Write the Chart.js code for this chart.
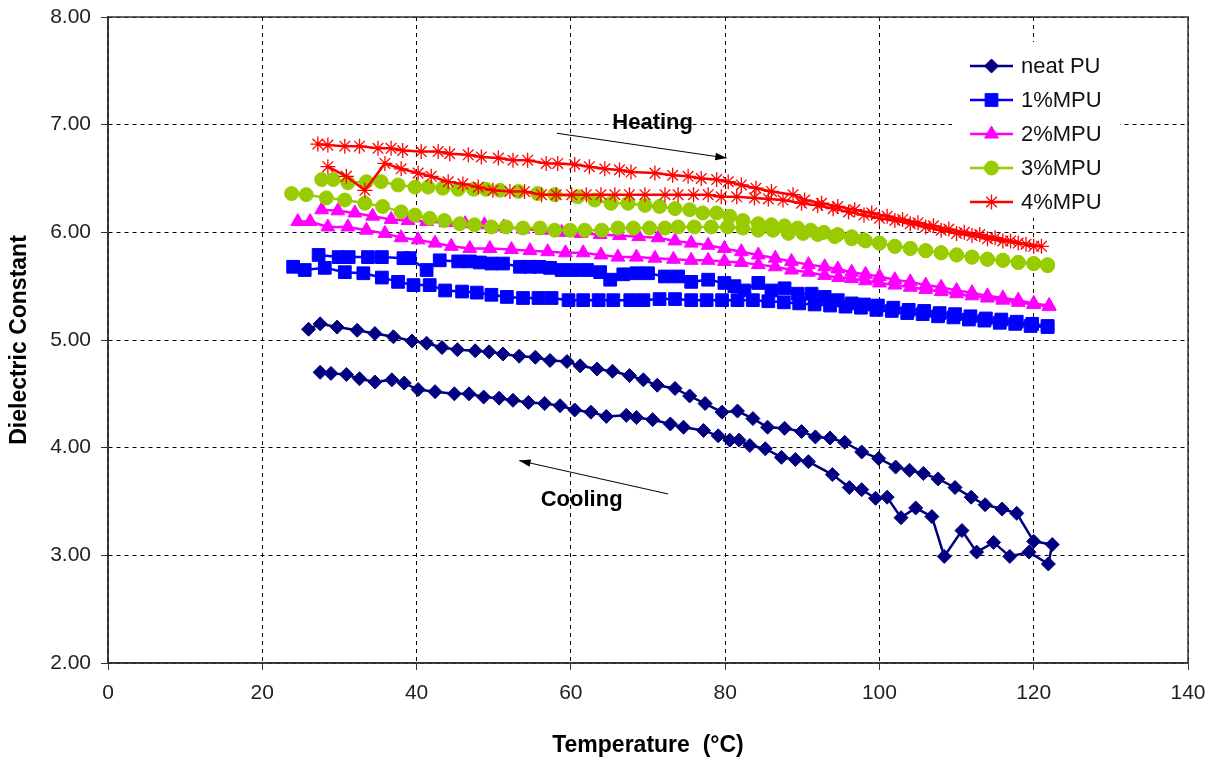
<!DOCTYPE html>
<html>
<head>
<meta charset="utf-8">
<script src="https://cdn.jsdelivr.net/npm/chart.js@4.4.1/dist/chart.umd.min.js"></script>
<style>
  html, body { margin: 0; padding: 0; background: #fff; }
  canvas { display: block; }
</style>
</head>
<body>
<canvas id="myChart" width="1221" height="762"></canvas>
<script>
const seriesNames = ['neat PU', '1%MPU', '2%MPU', '3%MPU', '4%MPU'];

// each loop: upper/first branch left to right, then the other branch back
const tempNeat = [26.0, 27.5, 29.7, 32.3, 34.6, 37.0, 39.4, 41.3, 43.3, 45.3, 47.6, 49.4, 51.2, 53.3, 55.4, 57.3, 59.5, 61.2, 63.4, 65.4, 67.6, 69.4, 71.2, 73.5, 75.4, 77.4, 79.6, 81.6, 83.6, 85.5, 87.7, 89.9, 91.7, 93.6, 95.5, 97.7, 99.9, 102.1, 103.9, 105.7, 107.6, 109.8, 111.9, 113.7, 115.9, 117.8, 120.0, 122.4,
  121.9, 119.4, 116.9, 114.8, 112.6, 110.7, 108.4, 106.8, 104.7, 102.8, 101.0, 99.5, 97.7, 96.1, 93.9, 90.8, 89.1, 87.3, 85.2, 83.2, 81.8, 80.6, 79.1, 77.2, 74.6, 72.9, 70.6, 68.5, 67.2, 64.6, 62.6, 60.5, 58.6, 56.6, 54.5, 52.5, 50.7, 48.7, 46.8, 44.9, 42.4, 40.2, 38.4, 36.8, 34.6, 32.6, 30.9, 28.9, 27.5];
const epsNeat = [5.10, 5.15, 5.12, 5.09, 5.06, 5.03, 4.99, 4.97, 4.93, 4.91, 4.90, 4.89, 4.87, 4.85, 4.84, 4.81, 4.80, 4.76, 4.73, 4.71, 4.67, 4.63, 4.58, 4.55, 4.48, 4.41, 4.33, 4.34, 4.27, 4.19, 4.18, 4.15, 4.10, 4.09, 4.05, 3.96, 3.90, 3.82, 3.79, 3.76, 3.71, 3.63, 3.54, 3.47, 3.43, 3.39, 3.13, 3.10,
  2.92, 3.03, 2.99, 3.12, 3.03, 3.23, 2.99, 3.36, 3.44, 3.35, 3.54, 3.53, 3.61, 3.63, 3.75, 3.87, 3.89, 3.91, 3.99, 4.02, 4.07, 4.07, 4.11, 4.16, 4.19, 4.22, 4.26, 4.28, 4.30, 4.29, 4.33, 4.35, 4.39, 4.41, 4.42, 4.44, 4.46, 4.47, 4.50, 4.50, 4.52, 4.54, 4.60, 4.63, 4.61, 4.64, 4.68, 4.69, 4.70];

const temp1 = [24.0, 25.5, 28.1, 30.7, 33.1, 35.5, 37.6, 39.6, 41.7, 43.7, 45.9, 47.8, 49.7, 51.7, 53.8, 55.8, 57.5, 59.7, 61.6, 63.6, 65.5, 67.7, 69.4, 71.5, 73.5, 75.6, 77.6, 79.6, 81.6, 83.6, 85.6, 87.6, 89.6, 91.6, 93.6, 95.6, 97.6, 99.6, 101.6, 103.6, 105.6, 107.6, 109.6, 111.6, 113.6, 115.6, 117.6, 119.6, 121.8,
  121.8, 119.8, 117.8, 115.8, 113.8, 111.8, 109.8, 107.8, 105.8, 103.8, 101.8, 99.8, 98.0, 96.4, 94.6, 92.9, 91.2, 89.4, 87.7, 86.0, 84.3, 82.5, 81.2, 79.9, 77.8, 75.6, 73.9, 72.2, 70.0, 68.5, 66.8, 65.1, 63.8, 62.1, 60.4, 58.8, 57.3, 55.9, 54.7, 53.4, 51.2, 49.7, 48.2, 46.9, 45.4, 43.0, 41.3, 39.1, 38.3, 35.5, 33.7, 31.2, 29.9, 27.3];
const eps1 = [5.68, 5.65, 5.67, 5.63, 5.62, 5.58, 5.54, 5.51, 5.51, 5.46, 5.45, 5.44, 5.42, 5.40, 5.39, 5.39, 5.39, 5.37, 5.37, 5.37, 5.37, 5.37, 5.37, 5.38, 5.38, 5.37, 5.37, 5.37, 5.37, 5.37, 5.36, 5.35, 5.34, 5.33, 5.32, 5.31, 5.30, 5.28, 5.27, 5.25, 5.24, 5.22, 5.21, 5.19, 5.18, 5.16, 5.15, 5.13, 5.12,
  5.13, 5.15, 5.17, 5.19, 5.20, 5.22, 5.24, 5.25, 5.27, 5.28, 5.30, 5.32, 5.33, 5.34, 5.37, 5.40, 5.43, 5.43, 5.48, 5.46, 5.53, 5.46, 5.50, 5.53, 5.56, 5.54, 5.59, 5.59, 5.62, 5.62, 5.61, 5.56, 5.63, 5.65, 5.65, 5.65, 5.67, 5.68, 5.68, 5.68, 5.71, 5.71, 5.72, 5.73, 5.73, 5.74, 5.65, 5.76, 5.76, 5.77, 5.77, 5.77, 5.77, 5.79];

const temp2 = [24.6, 26.2, 28.5, 31.1, 33.5, 35.9, 38.0, 40.2, 42.4, 44.5, 46.9, 49.5, 52.3, 54.7, 57.0, 59.3, 61.6, 63.9, 66.1, 68.5, 70.9, 73.3, 75.6, 77.8, 79.9, 82.1, 84.3, 86.5, 88.6, 90.8, 92.9, 94.7, 96.4, 98.2, 100.0, 102.0, 104.0, 106.0, 108.0, 110.0, 112.0, 114.0, 116.0, 118.0, 120.0, 122.0,
  122.0, 120.0, 118.0, 116.0, 114.0, 112.0, 110.0, 108.0, 106.0, 104.0, 102.0, 100.0, 98.2, 96.4, 94.6, 92.9, 90.8, 88.6, 86.5, 84.3, 82.1, 79.9, 77.8, 75.6, 73.5, 71.3, 68.8, 66.3, 63.8, 61.3, 58.8, 56.3, 53.8, 51.3, 48.8, 46.3, 43.8, 41.3, 38.9, 36.7, 34.3, 32.0, 29.8, 27.7];
const eps2 = [6.10, 6.10, 6.05, 6.05, 6.02, 5.99, 5.95, 5.93, 5.90, 5.87, 5.85, 5.85, 5.84, 5.83, 5.82, 5.81, 5.81, 5.79, 5.77, 5.77, 5.76, 5.75, 5.74, 5.74, 5.73, 5.72, 5.70, 5.68, 5.65, 5.63, 5.60, 5.58, 5.57, 5.55, 5.53, 5.51, 5.49, 5.47, 5.45, 5.43, 5.41, 5.39, 5.37, 5.35, 5.33, 5.31,
  5.32, 5.34, 5.37, 5.39, 5.41, 5.44, 5.46, 5.49, 5.51, 5.54, 5.56, 5.59, 5.61, 5.63, 5.66, 5.68, 5.70, 5.73, 5.76, 5.79, 5.82, 5.85, 5.88, 5.90, 5.92, 5.95, 5.96, 5.97, 5.98, 5.99, 6.00, 6.02, 6.03, 6.05, 6.07, 6.08, 6.09, 6.10, 6.11, 6.12, 6.15, 6.18, 6.20, 6.21];

const temp3 = [23.8, 25.7, 28.3, 30.7, 33.3, 35.6, 38.0, 39.8, 41.7, 43.6, 45.6, 47.5, 49.7, 51.6, 53.8, 56.0, 57.9, 59.9, 61.8, 64.0, 66.1, 68.1, 70.2, 72.2, 73.9, 76.0, 78.2, 80.3, 82.3, 84.3, 86.2, 88.2, 90.1, 92.0, 94.2, 96.4, 98.2, 100.0, 102.0, 104.0, 106.0, 108.0, 110.0, 112.0, 114.0, 116.0, 118.0, 120.0, 121.8,
  121.8, 120.0, 118.0, 116.0, 114.0, 112.0, 110.0, 108.0, 106.0, 104.0, 102.0, 100.0, 98.0, 96.4, 94.6, 92.8, 91.1, 89.4, 87.7, 86.0, 84.3, 82.3, 80.6, 78.9, 77.1, 75.4, 73.5, 71.5, 69.6, 67.4, 65.2, 63.1, 60.9, 57.9, 55.7, 53.2, 50.8, 49.0, 47.4, 45.4, 43.4, 41.5, 39.8, 37.6, 35.4, 33.5, 31.1, 29.2, 27.7];
const eps3 = [6.36, 6.35, 6.32, 6.30, 6.27, 6.24, 6.19, 6.16, 6.13, 6.11, 6.08, 6.07, 6.05, 6.05, 6.04, 6.04, 6.02, 6.02, 6.02, 6.02, 6.04, 6.04, 6.04, 6.04, 6.05, 6.05, 6.05, 6.05, 6.04, 6.02, 6.02, 5.99, 5.99, 5.98, 5.96, 5.94, 5.92, 5.90, 5.87, 5.85, 5.83, 5.81, 5.79, 5.77, 5.75, 5.74, 5.72, 5.71, 5.69,
  5.70, 5.71, 5.72, 5.74, 5.75, 5.77, 5.79, 5.81, 5.83, 5.85, 5.87, 5.90, 5.93, 5.96, 5.98, 6.00, 6.02, 6.04, 6.06, 6.07, 6.08, 6.11, 6.15, 6.18, 6.18, 6.21, 6.22, 6.24, 6.25, 6.27, 6.27, 6.30, 6.33, 6.35, 6.36, 6.38, 6.39, 6.40, 6.40, 6.40, 6.41, 6.42, 6.42, 6.44, 6.47, 6.47, 6.46, 6.49, 6.49];

const temp4 = [27.2, 28.5, 30.7, 32.6, 35.0, 36.7, 38.2, 40.6, 42.8, 44.3, 46.7, 48.4, 50.6, 52.5, 54.4, 56.8, 58.3, 60.5, 62.4, 64.4, 66.3, 67.8, 70.9, 73.2, 75.2, 76.9, 78.9, 80.4, 82.1, 84.0, 86.0, 88.8, 90.3, 92.5, 94.6, 96.8, 99.0, 101.0, 103.0, 105.0, 107.0, 109.0, 111.0, 113.0, 115.0, 117.0, 119.0, 121.0,
  120.0, 118.0, 116.0, 114.0, 112.0, 110.0, 108.0, 106.0, 104.0, 102.0, 100.0, 98.0, 96.0, 94.0, 92.0, 89.9, 87.5, 85.6, 83.8, 81.5, 79.5, 77.8, 75.9, 73.9, 72.2, 69.6, 67.6, 65.7, 63.9, 62.0, 60.1, 58.1, 56.2, 54.0, 52.1, 49.9, 48.0, 46.0, 44.1, 41.9, 40.2, 38.0, 35.9, 33.3, 30.9, 28.5];
const eps4 = [6.82, 6.81, 6.80, 6.80, 6.78, 6.78, 6.76, 6.75, 6.75, 6.73, 6.72, 6.70, 6.69, 6.67, 6.67, 6.64, 6.64, 6.63, 6.61, 6.59, 6.58, 6.56, 6.55, 6.53, 6.52, 6.50, 6.49, 6.47, 6.44, 6.41, 6.38, 6.35, 6.30, 6.27, 6.24, 6.21, 6.18, 6.15, 6.12, 6.09, 6.06, 6.03, 6.00, 5.98, 5.95, 5.92, 5.89, 5.87,
  5.87, 5.90, 5.92, 5.94, 5.97, 5.99, 6.02, 6.05, 6.08, 6.11, 6.13, 6.16, 6.19, 6.22, 6.25, 6.27, 6.30, 6.31, 6.32, 6.33, 6.33, 6.35, 6.35, 6.35, 6.35, 6.35, 6.35, 6.35, 6.35, 6.35, 6.35, 6.35, 6.35, 6.38, 6.38, 6.39, 6.42, 6.45, 6.47, 6.52, 6.55, 6.59, 6.64, 6.39, 6.52, 6.61];

const xTicks = [0, 20, 40, 60, 80, 100, 120, 140];
const yTicks = [2, 3, 4, 5, 6, 7, 8];

const colors = ['#000080', '#0000FF', '#FF00FF', '#99CC00', '#FF0000'];
const markers = ['rectRot', 'rect', 'triangle', 'circle', 'star'];
const markerSize = [7, 9, 8, 7, 7.5];

const temps = [tempNeat, temp1, temp2, temp3, temp4];
const eps = [epsNeat, eps1, eps2, eps3, eps4];

const datasets = seriesNames.map((name, i) => ({
  label: name,
  data: temps[i].map((t, j) => ({ x: t, y: eps[i][j] })),
  showLine: true,
  borderColor: colors[i],
  backgroundColor: colors[i],
  borderWidth: 2.5,
  pointStyle: markers[i],
  pointRadius: markerSize[i],
  pointBackgroundColor: colors[i],
  pointBorderColor: colors[i],
  pointBorderWidth: i === 4 ? 1.3 : 1,
  tension: 0,
  order: seriesNames.length - i,
}));

const font = 'Liberation Sans, Arial, sans-serif';

const frame = {
  id: 'frame',
  beforeDatasetsDraw(chart) {
    const { ctx, chartArea: a } = chart;
    ctx.save();
    ctx.strokeStyle = '#333';
    ctx.lineWidth = 1.5;
    ctx.strokeRect(a.left, a.top, a.right - a.left, a.bottom - a.top);
    ctx.restore();
  },
};

function arrow(ctx, x1, y1, x2, y2) {
  const a = Math.atan2(y2 - y1, x2 - x1);
  ctx.beginPath();
  ctx.moveTo(x1, y1);
  ctx.lineTo(x2, y2);
  ctx.stroke();
  ctx.beginPath();
  ctx.moveTo(x2, y2);
  ctx.lineTo(x2 - 12 * Math.cos(a - 0.32), y2 - 12 * Math.sin(a - 0.32));
  ctx.lineTo(x2 - 12 * Math.cos(a + 0.32), y2 - 12 * Math.sin(a + 0.32));
  ctx.closePath();
  ctx.fill();
}

const notes = {
  id: 'notes',
  afterDraw(chart) {
    const { ctx, scales: { x, y } } = chart;
    ctx.save();
    ctx.fillStyle = '#000';
    ctx.strokeStyle = '#000';
    ctx.lineWidth = 1;
    ctx.font = `bold 22px ${font}`;
    ctx.textAlign = 'center';
    ctx.textBaseline = 'middle';
    ctx.fillText('Heating', x.getPixelForValue(70.6), y.getPixelForValue(7.02));
    ctx.fillText('Cooling', x.getPixelForValue(61.4), y.getPixelForValue(3.51));
    arrow(ctx, x.getPixelForValue(58.2), y.getPixelForValue(6.92), x.getPixelForValue(80.2), y.getPixelForValue(6.69));
    arrow(ctx, x.getPixelForValue(72.6), y.getPixelForValue(3.57), x.getPixelForValue(53.3), y.getPixelForValue(3.88));

    // legend inside the plot, top right, on a white patch
    ctx.fillStyle = '#fff';
    ctx.fillRect(952, 42, 168, 176);
    ctx.textAlign = 'left';
    ctx.font = `22px ${font}`;
    chart.data.datasets.forEach((ds, i) => {
      const ly = 66 + i * 34;
      ctx.strokeStyle = ds.borderColor;
      ctx.lineWidth = ds.borderWidth;
      ctx.beginPath();
      ctx.moveTo(970, ly);
      ctx.lineTo(1013, ly);
      ctx.stroke();
      ctx.fillStyle = ds.pointBackgroundColor;
      ctx.lineWidth = ds.pointBorderWidth;
      Chart.helpers.drawPoint(ctx, {
        pointStyle: ds.pointStyle,
        radius: ds.pointRadius,
        borderWidth: ds.pointBorderWidth,
        rotation: 0,
      }, 991.5, ly);
      ctx.fillStyle = '#111';
      ctx.fillText(ds.label, 1021, ly + 1);
    });
    ctx.restore();
  },
};

new Chart(document.getElementById('myChart'), {
  type: 'scatter',
  data: { datasets },
  plugins: [frame, notes],
  options: {
    responsive: false,
    animation: false,
    devicePixelRatio: 1,
    layout: { padding: { top: 17, right: 33, left: 0, bottom: 0 } },
    plugins: { legend: { display: false }, tooltip: { enabled: false } },
    scales: {
      x: {
        type: 'linear',
        min: 0,
        max: 140,
        afterBuildTicks: (s) => { s.ticks = xTicks.map((v) => ({ value: v })); },
        afterFit: (s) => { s.height = 99; },
        ticks: { color: '#222', padding: 11, font: { family: font, size: 21 } },
        grid: { color: '#000', lineWidth: 1, tickLength: 7, tickColor: '#333' },
        border: { color: '#333', width: 1.5, dash: [4, 4] },
        title: {
          display: true,
          text: 'Temperature  (°C)',
          color: '#000',
          padding: { top: 0, bottom: 3 },
          font: { family: font, size: 23, weight: 'bold' },
        },
      },
      y: {
        min: 2,
        max: 8,
        afterBuildTicks: (s) => { s.ticks = yTicks.map((v) => ({ value: v })); },
        afterFit: (s) => { s.width = 108; s.paddingTop = 10; s.paddingBottom = 10; },
        ticks: { color: '#222', padding: 10, font: { family: font, size: 21 }, callback: (v) => Number(v).toFixed(2) },
        grid: { color: '#000', lineWidth: 1, tickLength: 7, tickColor: '#333' },
        border: { color: '#333', width: 1.5, dash: [4, 4] },
        title: {
          display: true,
          text: 'Dielectric Constant',
          color: '#000',
          padding: { top: 6, bottom: 0 },
          font: { family: font, size: 23, weight: 'bold' },
        },
      },
    },
  },
});
</script>
</body>
</html>
